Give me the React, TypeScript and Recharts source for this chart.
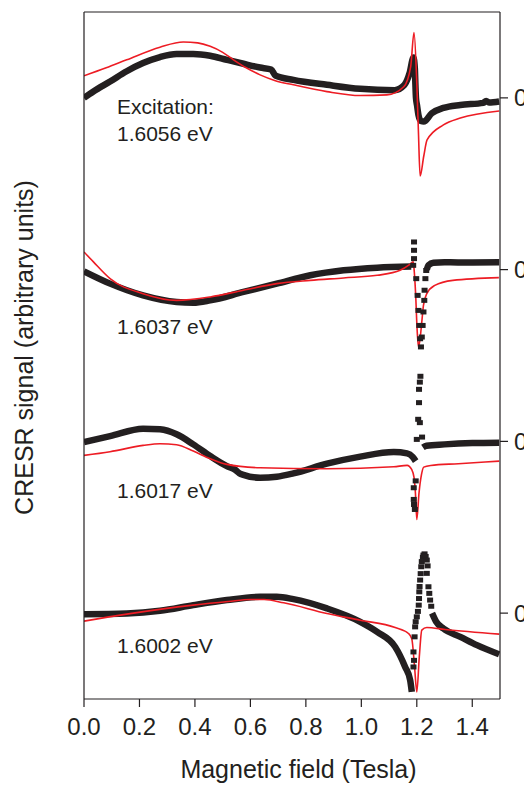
import React from 'react';
import { LineChart, Line, XAxis, YAxis, ReferenceDot, Label } from 'recharts';

// field values (Tesla) and signal (arbitrary units, relative to each trace's zero)
const exp1 = [
  [0, 0], [0.034, 0.075], [0.094, 0.19], [0.154, 0.31], [0.213, 0.405], [0.274, 0.475],
  [0.334, 0.51], [0.394, 0.51], [0.455, 0.49], [0.515, 0.443], [0.575, 0.397], [0.635, 0.353],
  [0.675, 0.33], [0.69, 0.26], [0.755, 0.21], [0.876, 0.152], [0.996, 0.105], [1.12, 0.09],
  [1.155, 0.15], [1.174, 0.29], [1.188, 0.47], [1.193, 0.34], [1.195, 0.15], [1.197, 0.0],
  [1.201, -0.09], [1.206, -0.2], [1.215, -0.27], [1.225, -0.276], [1.254, -0.178], [1.296, -0.117],
  [1.357, -0.082], [1.44, -0.058], [1.45, -0.035], [1.46, -0.055], [1.497, -0.043],
];
const fit1 = [
  [0, 0.257], [0.08, 0.35], [0.154, 0.443], [0.274, 0.59], [0.358, 0.65], [0.41, 0.64],
  [0.455, 0.6], [0.5, 0.53], [0.539, 0.443], [0.585, 0.35], [0.635, 0.268], [0.69, 0.2],
  [0.755, 0.152], [0.876, 0.073], [0.996, 0.027], [1.092, 0.035], [1.153, 0.13], [1.178, 0.365],
  [1.19, 0.76], [1.2, 0.17], [1.206, -0.41], [1.212, -0.91], [1.225, -0.68], [1.237, -0.49],
  [1.296, -0.315], [1.357, -0.235], [1.497, -0.152],
];

const exp2 = [
  [0, -0.02], [0.094, -0.163], [0.213, -0.3], [0.334, -0.377], [0.394, -0.385], [0.455, -0.358],
  [0.575, -0.26], [0.695, -0.163], [0.816, -0.066], [0.936, -0.008], [1.057, 0.023], [1.18, 0.035],
  [1.21, null],
  [1.236, 0.0], [1.242, 0.05], [1.26, 0.08], [1.3, 0.085], [1.4, 0.083], [1.497, 0.085],
];
const exp2Points = [
  [1.187, 0.05], [1.19, 0.128], [1.19, 0.225], [1.19, 0.322], [1.198, -0.105], [1.203, -0.3],
  [1.206, -0.475], [1.209, -0.65], [1.212, -0.805], [1.215, -0.9], [1.218, -0.785], [1.221, -0.65],
  [1.224, -0.493], [1.227, -0.358], [1.228, -0.24], [1.231, -0.105], [1.234, -0.01],
];
const fit2 = [
  [0, 0.206], [0.034, 0.09], [0.094, -0.105], [0.213, -0.28], [0.334, -0.358], [0.455, -0.318],
  [0.575, -0.24], [0.695, -0.163], [0.816, -0.125], [0.936, -0.097], [1.057, -0.066], [1.14, -0.008],
  [1.175, 0.06], [1.187, 0.09], [1.19, 0.012], [1.196, -0.3], [1.201, -0.69], [1.206, -0.9],
  [1.212, -0.8], [1.218, -0.61], [1.224, -0.416], [1.236, -0.28], [1.265, -0.183], [1.33, -0.125],
  [1.496, -0.093],
];

const exp3 = [
  [0, -0.008], [0.094, 0.062], [0.213, 0.148], [0.274, 0.14], [0.334, 0.082], [0.394, -0.035],
  [0.455, -0.171], [0.515, -0.288], [0.545, -0.33], [0.56, -0.37], [0.575, -0.39], [0.635, -0.424],
  [0.695, -0.412], [0.755, -0.373], [0.876, -0.26], [0.996, -0.178], [1.117, -0.125], [1.165, -0.14],
  [1.185, -0.18], [1.196, -0.23],
  [1.21, null],
  [1.222, -0.07], [1.235, -0.05], [1.3, -0.035], [1.4, -0.02], [1.497, -0.015],
];
const exp3Points = [
  [1.196, -0.46], [1.189, -0.54], [1.189, -0.676], [1.19, -0.735], [1.193, -0.793],
  [1.2, 0.023], [1.219, 0.05], [1.211, 0.218], [1.205, 0.257], [1.208, 0.451], [1.208, 0.606],
  [1.211, 0.69], [1.213, 0.758],
];
const fit3 = [
  [0, -0.163], [0.094, -0.12], [0.213, -0.047], [0.274, -0.027], [0.334, -0.04], [0.394, -0.113],
  [0.455, -0.202], [0.515, -0.268], [0.635, -0.307], [0.876, -0.319], [1.117, -0.295], [1.165, -0.28],
  [1.182, -0.33], [1.19, -0.42], [1.195, -0.6], [1.2, -0.91], [1.208, -0.6], [1.217, -0.385],
  [1.225, -0.3], [1.25, -0.28], [1.35, -0.26], [1.497, -0.23],
];

const exp4 = [
  [0, -0.012], [0.154, -0.004], [0.274, 0.027], [0.394, 0.093], [0.515, 0.152], [0.635, 0.19],
  [0.695, 0.19], [0.755, 0.163], [0.876, 0.055], [0.996, -0.101], [1.057, -0.218], [1.122, -0.393],
  [1.158, -0.627], [1.176, -0.78], [1.182, -0.917],
  [1.22, null],
  [1.255, 0.0], [1.27, -0.1], [1.296, -0.18], [1.357, -0.276], [1.417, -0.373], [1.497, -0.48],
];
const exp4Points = [
  [1.188, -0.627], [1.19, -0.55], [1.188, -0.452], [1.192, -0.276], [1.194, -0.16], [1.196, -0.1],
  [1.2, -0.043], [1.204, 0.02], [1.207, 0.093], [1.208, 0.17], [1.209, 0.248], [1.21, 0.31],
  [1.212, 0.385], [1.214, 0.46], [1.216, 0.54], [1.218, 0.6], [1.222, 0.65], [1.224, 0.676],
  [1.228, 0.69], [1.232, 0.66], [1.236, 0.618], [1.239, 0.55], [1.236, 0.463], [1.242, 0.307],
  [1.245, 0.23], [1.248, 0.152], [1.252, 0.08],
];
const fit4 = [
  [0, -0.093], [0.154, -0.012], [0.394, 0.093], [0.52, 0.135], [0.6, 0.158], [0.65, 0.158],
  [0.72, 0.12], [0.876, -0.004], [0.996, -0.082], [1.122, -0.167], [1.17, -0.237], [1.182, -0.3],
  [1.192, -0.627], [1.2, -0.917], [1.209, -0.51], [1.218, -0.198], [1.236, -0.167], [1.302, -0.19],
  [1.497, -0.245],
];

// each trace is stacked; zero of trace n sits at this offset
const offsets = [6, 4, 2, 0];
const traceLabels = ['1.6056 eV', '1.6037 eV', '1.6017 eV', '1.6002 eV'];
const labelY = [5.5, 3.245, 1.34, -0.467];

const fieldMajorTicks = [0, 0.2, 0.4, 0.6, 0.8, 1.0, 1.2, 1.4];
const fieldMinorTicks = [0.1, 0.3, 0.5, 0.7, 0.9, 1.1, 1.3, 1.5];
const fieldAllTicks = [0, 0.1, 0.2, 0.3, 0.4, 0.5, 0.6, 0.7, 0.8, 0.9, 1.0, 1.1, 1.2, 1.3, 1.4, 1.5];
const zeroTicks = [0, 2, 4, 6];
const midTicks = [1, 3, 5];

const ink = '#231f20';
const red = '#ed1c24';

const toRows = (pts, offset) =>
  pts.map(([x, y]) => ({ x, y: y === null ? null : y + offset }));

const square = (props) => {
  const { cx, cy, index } = props;
  if (cx == null || cy == null) return <g key={`n-${index}`} />;
  return <rect key={`s-${index}-${cx}`} x={cx - 3} y={cy - 2.5} width={6} height={5} fill={ink} />;
};

const labelText = (text, size) => (props) => (
  <text x={props.cx} y={props.cy} fontSize={size} fill={ink}>
    {text}
  </text>
);

const expTraces = [exp1, exp2, exp3, exp4];
const expPoints = [null, exp2Points, exp3Points, exp4Points];
const fitTraces = [fit1, fit2, fit3, fit4];

export default function App() {
  return (
    <div style={{ width: 524, height: 778, fontFamily: '"Liberation Sans", Arial, Helvetica, sans-serif' }}>
      <LineChart width={524} height={778} margin={{ top: 4, right: 31, bottom: 85, left: 75 }}>
        <XAxis
          type="number"
          dataKey="x"
          domain={[0, 1.5]}
          allowDataOverflow
          ticks={fieldMajorTicks}
          interval={0}
          height={1}
          tickSize={8}
          tickMargin={11}
          tickFormatter={(v) => v.toFixed(1)}
          tick={{ fontSize: 24, fill: ink }}
          stroke={ink}
          strokeWidth={1.2}
        >
          <Label
            content={(p) => {
              const vb = p.viewBox || { x: 76, y: 691, width: 416, height: 0 };
              return (
                <text x={vb.x + vb.width / 2 + 6.5} y={vb.y + 79} textAnchor="middle" fontSize={25} fill={ink}>
                  Magnetic field (Tesla)
                </text>
              );
            }}
          />
        </XAxis>
        <XAxis
          xAxisId="minor"
          type="number"
          domain={[0, 1.5]}
          allowDataOverflow
          ticks={fieldMinorTicks}
          interval={0}
          height={1}
          tickSize={5}
          tick={false}
          axisLine={false}
          stroke={ink}
          strokeWidth={1.2}
        />
        <XAxis
          xAxisId="top"
          orientation="top"
          mirror
          type="number"
          domain={[0, 1.5]}
          allowDataOverflow
          ticks={fieldAllTicks}
          interval={0}
          height={1}
          tickSize={4}
          tick={false}
          stroke={ink}
          strokeWidth={1.2}
        />
        <YAxis
          type="number"
          domain={[-1, 7]}
          allowDataOverflow
          ticks={zeroTicks}
          interval={0}
          width={1}
          tickSize={8}
          tick={false}
          stroke={ink}
          strokeWidth={1.2}
        >
          <Label
            content={(p) => {
              const vb = p.viewBox || { x: 76, y: 5, width: 0, height: 686 };
              const x = vb.x - 50;
              const y = vb.y + vb.height / 2 - 8;
              return (
                <text x={x} y={y} transform={`rotate(-90 ${x} ${y})`} textAnchor="middle" fontSize={25} fill={ink}>
                  CRESR signal (arbitrary units)
                </text>
              );
            }}
          />
        </YAxis>
        <YAxis
          yAxisId="leftMinor"
          mirror
          type="number"
          domain={[-1, 7]}
          allowDataOverflow
          ticks={midTicks}
          interval={0}
          width={1}
          tickSize={4}
          tick={false}
          axisLine={false}
          stroke={ink}
          strokeWidth={1.2}
        />
        <YAxis
          yAxisId="right"
          orientation="right"
          type="number"
          domain={[-1, 7]}
          allowDataOverflow
          ticks={zeroTicks}
          interval={0}
          width={1}
          tickSize={8}
          tickMargin={6}
          tickFormatter={() => '0'}
          tick={{ fontSize: 24, fill: ink }}
          stroke={ink}
          strokeWidth={1.2}
        />
        <YAxis
          yAxisId="rightMinor"
          orientation="right"
          mirror
          type="number"
          domain={[-1, 7]}
          allowDataOverflow
          ticks={midTicks}
          interval={0}
          width={1}
          tickSize={4}
          tick={false}
          axisLine={false}
          stroke={ink}
          strokeWidth={1.2}
        />

        {expTraces.map((t, i) => (
          <Line
            key={`exp-${i}`}
            data={toRows(t, offsets[i])}
            dataKey="y"
            type="monotone"
            stroke={ink}
            strokeWidth={6.5}
            dot={false}
            activeDot={false}
            connectNulls={false}
            isAnimationActive={false}
          />
        ))}
        {expPoints.map((t, i) =>
          t ? (
            <Line
              key={`pts-${i}`}
              data={toRows(t, offsets[i])}
              dataKey="y"
              stroke="none"
              dot={square}
              activeDot={false}
              isAnimationActive={false}
            />
          ) : null
        )}
        {fitTraces.map((t, i) => (
          <Line
            key={`fit-${i}`}
            data={toRows(t, offsets[i])}
            dataKey="y"
            type="monotone"
            stroke={red}
            strokeWidth={1.6}
            dot={false}
            activeDot={false}
            isAnimationActive={false}
          />
        ))}

        <ReferenceDot x={0.119} y={5.81} r={0} shape={labelText('Excitation:', 21)} />
        {traceLabels.map((text, i) => (
          <ReferenceDot key={text} x={0.119} y={labelY[i]} r={0} shape={labelText(text, 21)} />
        ))}
      </LineChart>
    </div>
  );
}
